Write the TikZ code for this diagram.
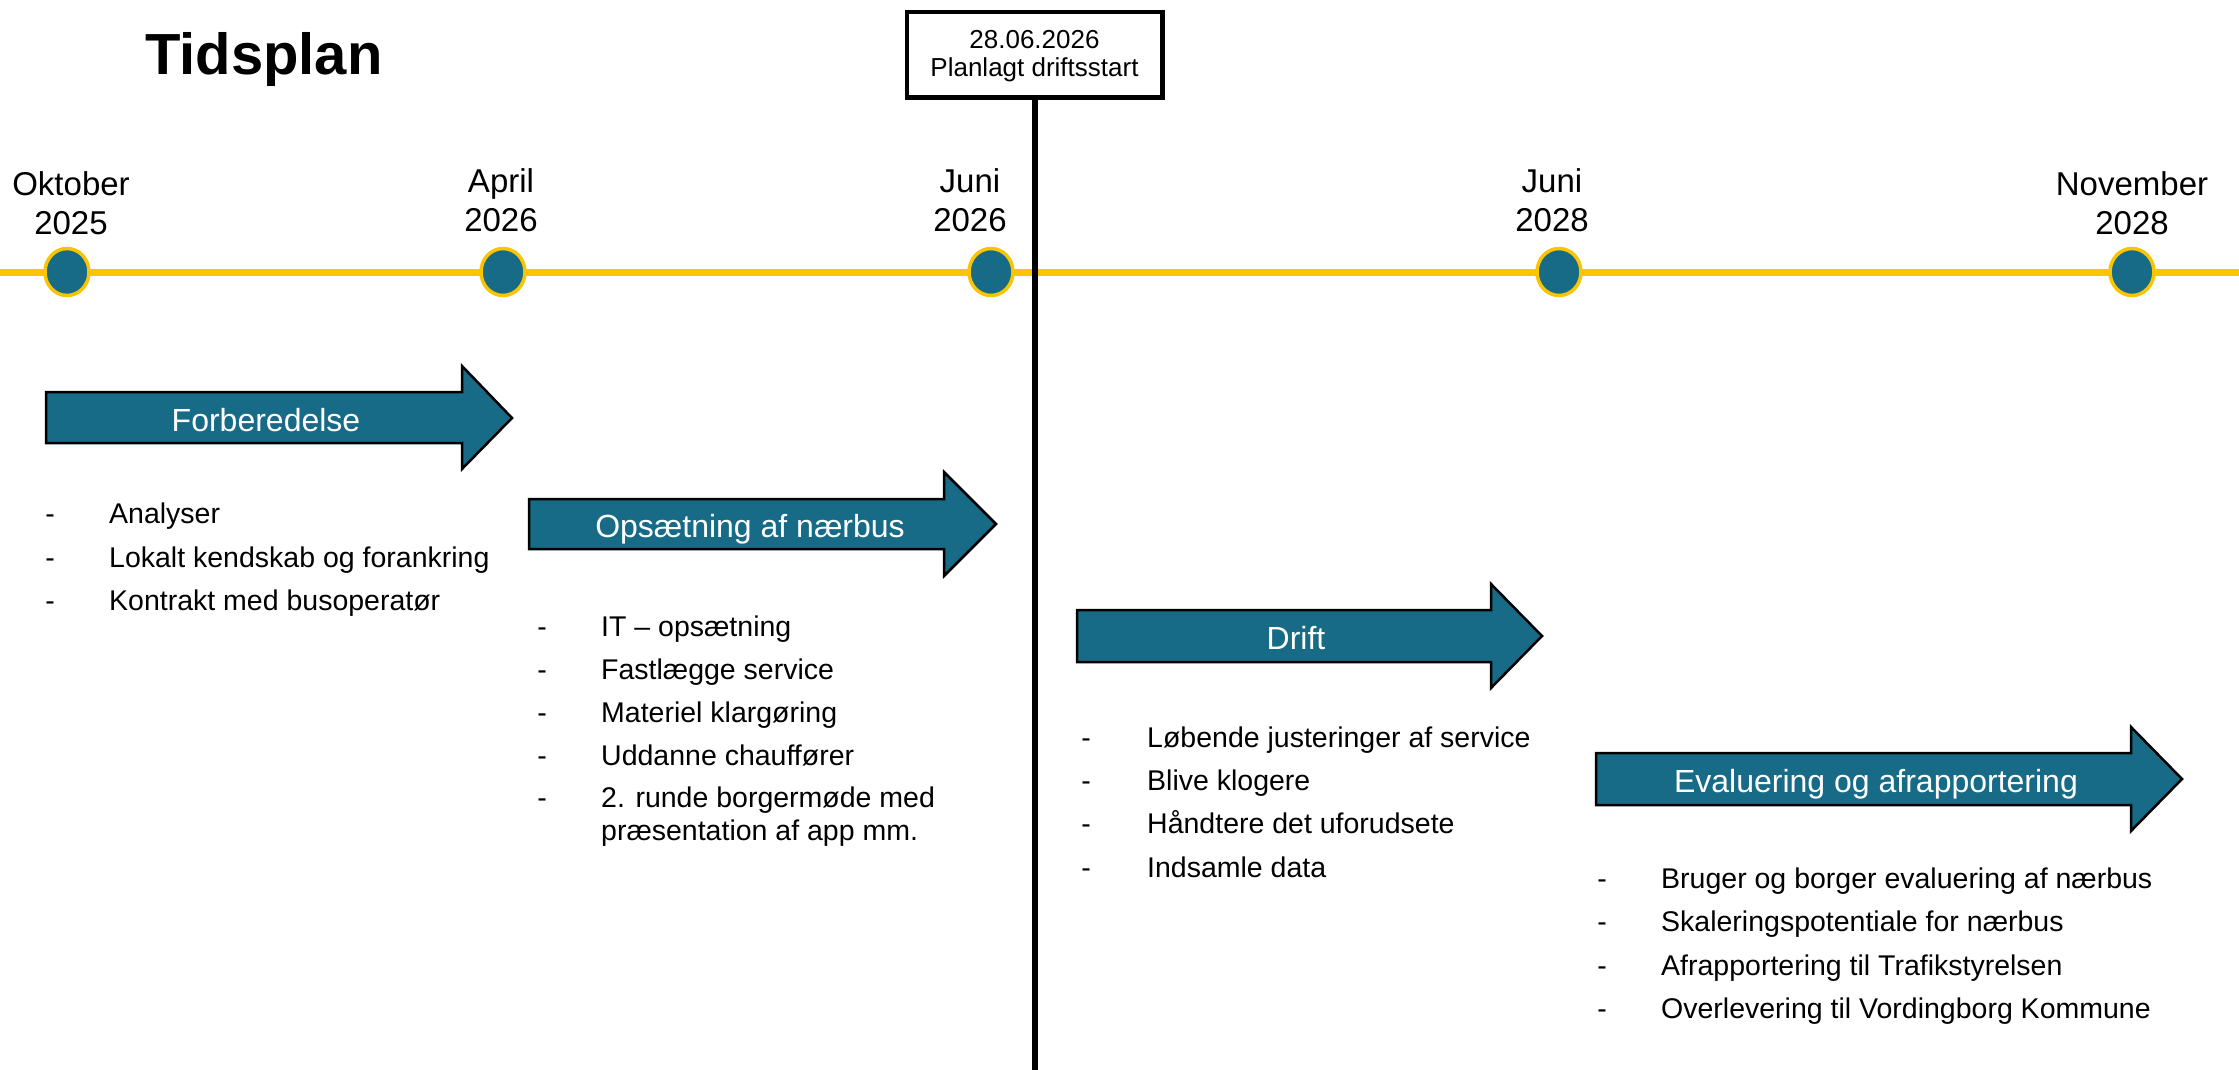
\documentclass[tikz,border=0pt]{standalone}
\usepackage{fontspec}
\setmainfont{Liberation Sans}
\usetikzlibrary{shapes.geometric}
\definecolor{phaseteal}{RGB}{23,107,135}
\definecolor{lineyellow}{RGB}{250,196,0}
\tikzset{
  milestone/.style={ellipse, minimum width=44pt, minimum height=47pt, inner sep=0pt,
    fill=phaseteal, draw=lineyellow, line width=3.5pt},
  datelabel/.style={align=center, anchor=south, inner sep=0pt, font=\fontsize{33}{39}\selectfont},
  phasebox/.style={fill=phaseteal, draw=black, line width=2.5pt, line join=miter},
  phasetext/.style={anchor=base, inner sep=0pt, text=white, font=\fontsize{32}{38}\selectfont},
  dashitem/.style={anchor=base, inner sep=0pt, font=\fontsize{28.5}{34}\selectfont},
  itemtext/.style={anchor=base west, inner sep=0pt, font=\fontsize{28.5}{34}\selectfont},
  startbox/.style={draw=black, line width=4.5pt, fill=white, minimum width=255.5pt,
    minimum height=85.5pt, inner sep=0pt, align=center, font=\fontsize{26}{28}\selectfont},
}
\begin{document}
\begin{tikzpicture}[x=1pt,y=-1pt]
\useasboundingbox (0,0) rectangle (2239,1070);

% title
\node[anchor=base west, inner sep=0pt, font=\bfseries\fontsize{58}{64}\selectfont] (title) at (145,75) {Tidsplan};

% timeline
\coordinate (tl) at (0,272);
\coordinate (tr) at (2239,272);
\draw[lineyellow, line width=7pt] (tl) -- (tr);

\node[milestone] (m1) at (67,272) {};
\node[milestone] (m2) at (503,272) {};
\node[milestone] (m3) at (991,272) {};
\node[milestone] (m4) at (1559,272) {};
\node[milestone] (m5) at (2132,272) {};

\node[datelabel] (d1) at (71,235) {Oktober\\2025};
\node[datelabel] (d2) at (501,232) {April\\2026};
\node[datelabel] (d3) at (970,232) {Juni\\2026};
\node[datelabel] (d4) at (1552,232) {Juni\\2028};
\node[datelabel] (d5) at (2132,235) {November\\2028};

% start marker
\node[startbox, text depth=4pt] (start) at (1034.5,55) {28.06.2026\\Planlagt driftsstart};
\coordinate (bottom) at (1034.5,1070);
\draw[line width=6pt] (start.south) -- (bottom);

% phase arrows
\draw[phasebox] (46,392) -- (462,392) -- (462,366) -- (512,418) -- (462,469) -- (462,443) -- (46,443) -- cycle;
\node[phasetext] (p1) at (266,431) {Forberedelse};

\draw[phasebox] (529,499) -- (944,499) -- (944,472) -- (996,524) -- (944,576) -- (944,549) -- (529,549) -- cycle;
\node[phasetext] (p2) at (750,537) {Opsætning af nærbus};

\draw[phasebox] (1077,610) -- (1491,610) -- (1491,584) -- (1542,636) -- (1491,688) -- (1491,662) -- (1077,662) -- cycle;
\node[phasetext] (p3) at (1296,649) {Drift};

\draw[phasebox] (1596,753) -- (2131,753) -- (2131,727) -- (2182,779) -- (2131,831) -- (2131,805) -- (1596,805) -- cycle;
\node[phasetext] (p4) at (1876,792) {Evaluering og afrapportering};

% list 1
\node[dashitem] (a1d) at (50,523) {-};
\node[itemtext] (a1) at (109,523) {Analyser};
\node[dashitem] (a2d) at (50,567) {-};
\node[itemtext] (a2) at (109,567) {Lokalt kendskab og forankring};
\node[dashitem] (a3d) at (50,610) {-};
\node[itemtext] (a3) at (109,610) {Kontrakt med busoperatør};

% list 2
\node[dashitem] (b1d) at (542,636) {-};
\node[itemtext] (b1) at (601,636) {IT – opsætning};
\node[dashitem] (b2d) at (542,679) {-};
\node[itemtext] (b2) at (601,679) {Fastlægge service};
\node[dashitem] (b3d) at (542,722) {-};
\node[itemtext] (b3) at (601,722) {Materiel klargøring};
\node[dashitem] (b4d) at (542,765) {-};
\node[itemtext] (b4) at (601,765) {Uddanne chauffører};
\node[dashitem] (b5d) at (542,807) {-};
\node[itemtext] (b5) at (601,807) {2. runde borgermøde med};
\node[itemtext] (b5b) at (601,840) {præsentation af app mm.};

% list 3
\node[dashitem] (c1d) at (1086,747) {-};
\node[itemtext] (c1) at (1147,747) {Løbende justeringer af service};
\node[dashitem] (c2d) at (1086,790) {-};
\node[itemtext] (c2) at (1147,790) {Blive klogere};
\node[dashitem] (c3d) at (1086,833) {-};
\node[itemtext] (c3) at (1147,833) {Håndtere det uforudsete};
\node[dashitem] (c4d) at (1086,877) {-};
\node[itemtext] (c4) at (1147,877) {Indsamle data};

% list 4
\node[dashitem] (e1d) at (1602,888) {-};
\node[itemtext] (e1) at (1661,888) {Bruger og borger evaluering af nærbus};
\node[dashitem] (e2d) at (1602,931) {-};
\node[itemtext] (e2) at (1661,931) {Skaleringspotentiale for nærbus};
\node[dashitem] (e3d) at (1602,975) {-};
\node[itemtext] (e3) at (1661,975) {Afrapportering til Trafikstyrelsen};
\node[dashitem] (e4d) at (1602,1018) {-};
\node[itemtext] (e4) at (1661,1018) {Overlevering til Vordingborg Kommune};
\end{tikzpicture}
\end{document}
